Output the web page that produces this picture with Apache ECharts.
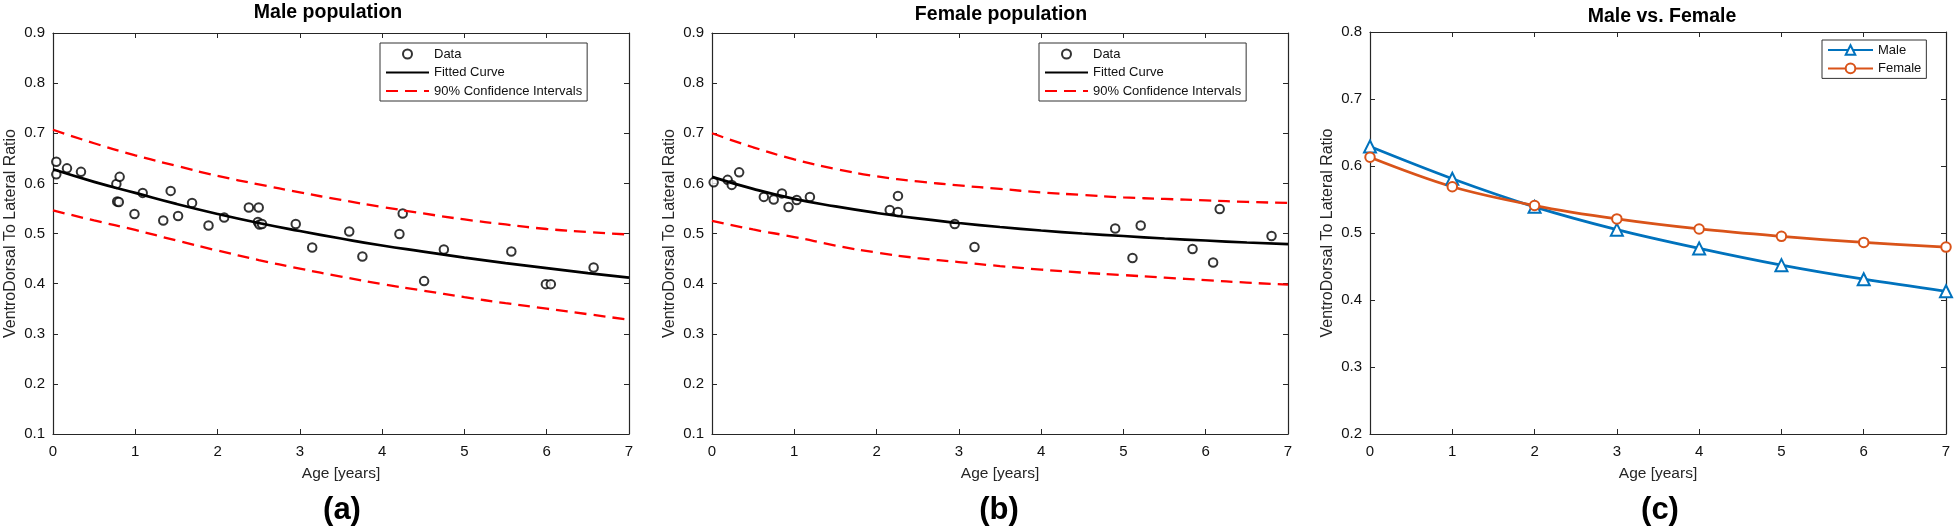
<!DOCTYPE html>
<html>
<head>
<meta charset="utf-8">
<script src="https://cdn.jsdelivr.net/npm/echarts@6/dist/echarts.min.js"></script>
<style>
html,body{margin:0;padding:0;background:#fff;}
#chart{width:1954px;height:530px;}
</style>
</head>
<body>
<div id="chart"></div>
<script>
// ---------- DATA ----------
const fitAges = [0,0.5,1,1.5,2,2.5,3,3.5,4,4.5,5,5.5,6,6.5,7];

const maleFit   = [0.628,0.603,0.581,0.559,0.539,0.521,0.505,0.490,0.476,0.464,0.452,0.441,0.431,0.421,0.412];
const maleUpper = [0.707,0.680,0.656,0.635,0.615,0.598,0.582,0.567,0.553,0.540,0.528,0.518,0.509,0.503,0.498];
const maleLower = [0.546,0.526,0.507,0.486,0.466,0.447,0.430,0.414,0.399,0.386,0.373,0.361,0.350,0.339,0.328];

const femaleFit   = [0.613,0.589,0.569,0.554,0.541,0.530,0.521,0.513,0.506,0.500,0.495,0.490,0.486,0.482,0.479];
const femaleUpper = [0.700,0.672,0.648,0.629,0.614,0.604,0.596,0.589,0.582,0.577,0.572,0.569,0.566,0.563,0.561];
const femaleLower = [0.525,0.508,0.493,0.476,0.462,0.451,0.443,0.435,0.428,0.422,0.417,0.412,0.407,0.402,0.398];

const maleAge = [0.04,0.04,0.17,0.34,0.77,0.81,0.78,0.80,0.99,1.09,1.34,1.43,1.52,1.69,1.89,2.08,2.38,2.50,2.49,2.51,2.54,2.95,3.15,3.60,3.76,4.21,4.25,4.51,4.75,5.57,5.99,6.05,6.57];
const maleVal = [0.643,0.618,0.630,0.623,0.599,0.613,0.564,0.563,0.539,0.581,0.526,0.585,0.535,0.561,0.516,0.532,0.552,0.552,0.523,0.518,0.519,0.519,0.472,0.504,0.454,0.499,0.540,0.405,0.468,0.464,0.399,0.399,0.432];

const femaleAge = [0.02,0.19,0.24,0.33,0.63,0.75,0.85,0.93,1.03,1.19,2.16,2.26,2.26,2.95,3.19,4.90,5.11,5.21,5.84,6.09,6.17,6.80];
const femaleVal = [0.602,0.607,0.597,0.622,0.573,0.568,0.580,0.553,0.567,0.573,0.547,0.543,0.575,0.519,0.473,0.510,0.451,0.516,0.469,0.442,0.549,0.495];

const cAges   = [0,1,2,3,4,5,6,7];
const cMale   = [0.629,0.581,0.539,0.505,0.477,0.452,0.431,0.413];
const cFemale = [0.613,0.569,0.541,0.521,0.506,0.495,0.486,0.479];

// ---------- CHART ----------
const FONT = '"Liberation Sans", Arial, Helvetica, sans-serif';
const AX = '#262626';
const pairs = (xs, ys) => xs.map((x, i) => [x, ys[i]]);

const grids = [
  {left: 53, top: 33, width: 576, height: 401},
  {left: 712, top: 33, width: 576, height: 401},
  {left: 1370, top: 32, width: 576, height: 402}
];
const yRanges = [[0.1,0.9],[0.1,0.9],[0.2,0.8]];

const xAxes = [], yAxes = [];
grids.forEach((g, i) => {
  xAxes.push({
    type: 'value', gridIndex: i, min: 0, max: 7, interval: 1, position: 'bottom',
    name: 'Age [years]', nameLocation: 'middle', nameGap: 32,
    nameTextStyle: {fontSize: 15.5, color: AX, fontFamily: FONT},
    axisLine: {show: true, onZero: false, lineStyle: {color: AX, width: 1.2}},
    axisTick: {show: true, inside: true, length: 5, lineStyle: {color: AX}},
    axisLabel: {show: true, margin: 10, fontSize: 15, color: '#111', fontFamily: FONT},
    splitLine: {show: false}
  });
  xAxes.push({
    type: 'value', gridIndex: i, min: 0, max: 7, interval: 1, position: 'top',
    axisLine: {show: true, onZero: false, lineStyle: {color: AX, width: 1.2}},
    axisTick: {show: true, inside: true, length: 5, lineStyle: {color: AX}},
    axisLabel: {show: false}, splitLine: {show: false}
  });
  yAxes.push({
    type: 'value', gridIndex: i, min: yRanges[i][0], max: yRanges[i][1], interval: 0.1, position: 'left',
    name: 'VentroDorsal To Lateral Ratio', nameLocation: 'middle', nameGap: 34,
    nameTextStyle: {fontSize: 16, color: AX, fontFamily: FONT},
    axisLine: {show: true, onZero: false, lineStyle: {color: AX, width: 1.2}},
    axisTick: {show: true, inside: true, length: 5, lineStyle: {color: AX}},
    axisLabel: {show: true, margin: 8, fontSize: 15, color: '#111', fontFamily: FONT,
      formatter: v => v.toFixed(1)},
    splitLine: {show: false}
  });
  yAxes.push({
    type: 'value', gridIndex: i, min: yRanges[i][0], max: yRanges[i][1], interval: 0.1, position: 'right',
    axisLine: {show: true, onZero: false, lineStyle: {color: AX, width: 1.2}},
    axisTick: {show: true, inside: true, length: 5, lineStyle: {color: AX}},
    axisLabel: {show: false}, splitLine: {show: false}
  });
});

function fitPanelSeries(idx, ages, vals, fit, up, lo) {
  const xi = idx * 2, yi = idx * 2;
  return [
    {name: 'Data', type: 'scatter', xAxisIndex: xi, yAxisIndex: yi, data: pairs(ages, vals),
     symbol: 'emptyCircle', symbolSize: 8.5, z: 3,
     itemStyle: {color: '#000', borderColor: '#000', borderWidth: 1.4}},
    {name: 'Fitted Curve', type: 'line', xAxisIndex: xi, yAxisIndex: yi, data: pairs(fitAges, fit),
     smooth: true, symbol: 'none', z: 4,
     lineStyle: {color: '#000', width: 2.7}, itemStyle: {color: '#000'}},
    {name: '90% Confidence Intervals', type: 'line', xAxisIndex: xi, yAxisIndex: yi, data: pairs(fitAges, up),
     smooth: true, symbol: 'none', z: 4,
     lineStyle: {color: '#ff0000', width: 2.3, type: [12, 7]}, itemStyle: {color: '#ff0000'}},
    {name: '90% Confidence Intervals', type: 'line', xAxisIndex: xi, yAxisIndex: yi, data: pairs(fitAges, lo),
     smooth: true, symbol: 'none', z: 4,
     lineStyle: {color: '#ff0000', width: 2.3, type: [12, 7]}, itemStyle: {color: '#ff0000'}}
  ];
}

const series = [
  ...fitPanelSeries(0, maleAge, maleVal, maleFit, maleUpper, maleLower),
  ...fitPanelSeries(1, femaleAge, femaleVal, femaleFit, femaleUpper, femaleLower),
  {name: 'Male', type: 'line', xAxisIndex: 4, yAxisIndex: 4, data: pairs(cAges, cMale),
   smooth: 0.35, symbol: 'emptyTriangle', symbolSize: 12, showSymbol: true,
   lineStyle: {color: '#0072BD', width: 2.8},
   itemStyle: {color: '#0072BD', borderColor: '#0072BD', borderWidth: 2.2}},
  {name: 'Female', type: 'line', xAxisIndex: 4, yAxisIndex: 4, data: pairs(cAges, cFemale),
   smooth: 0.35, symbol: 'emptyCircle', symbolSize: 9.5, showSymbol: true,
   lineStyle: {color: '#D95319', width: 2.8},
   itemStyle: {color: '#D95319', borderColor: '#D95319', borderWidth: 2.2}}
];

const legendBase = {
  orient: 'vertical', itemWidth: 43, itemHeight: 9, itemGap: 4.5,
  padding: [4, 5, 3, 5], borderColor: '#333', borderWidth: 1, backgroundColor: '#fff',
  textStyle: {fontSize: 13, color: '#111', fontFamily: FONT, lineHeight: 14},
  selectedMode: false
};
const fitLegendData = [
  {name: 'Data'},
  {name: 'Fitted Curve', itemStyle: {opacity: 0}},
  {name: '90% Confidence Intervals', itemStyle: {opacity: 0}}
];

const titleStyle = {fontSize: 19.5, fontWeight: 'bold', color: '#000', fontFamily: FONT};
const subStyle = {fontSize: 31, fontWeight: 'bold', color: '#000', fontFamily: FONT};

const option = {
  animation: false,
  backgroundColor: '#fff',
  title: [
    {text: 'Male population', left: 328, top: 3, textAlign: 'center', padding: 0, textStyle: titleStyle},
    {text: 'Female population', left: 1001, top: 5, textAlign: 'center', padding: 0, textStyle: titleStyle},
    {text: 'Male vs. Female', left: 1662, top: 7, textAlign: 'center', padding: 0, textStyle: titleStyle},
    {text: '(a)', left: 342, top: 495, textAlign: 'center', padding: 0, textStyle: subStyle},
    {text: '(b)', left: 999, top: 495, textAlign: 'center', padding: 0, textStyle: subStyle},
    {text: '(c)', left: 1660, top: 495, textAlign: 'center', padding: 0, textStyle: subStyle}
  ],
  legend: [
    Object.assign({}, legendBase, {left: 380, top: 43, data: fitLegendData}),
    Object.assign({}, legendBase, {left: 1039, top: 43, data: fitLegendData}),
    Object.assign({}, legendBase, {left: 1822, top: 40, itemWidth: 45, itemHeight: 12, itemGap: 4.4,
      padding: [3, 5, 3, 5], data: ['Male', 'Female']})
  ],
  grid: grids,
  xAxis: xAxes,
  yAxis: yAxes,
  series: series
};

const chart = echarts.init(document.getElementById('chart'), null, {renderer: 'canvas'});
chart.setOption(option);
</script>
</body>
</html>
